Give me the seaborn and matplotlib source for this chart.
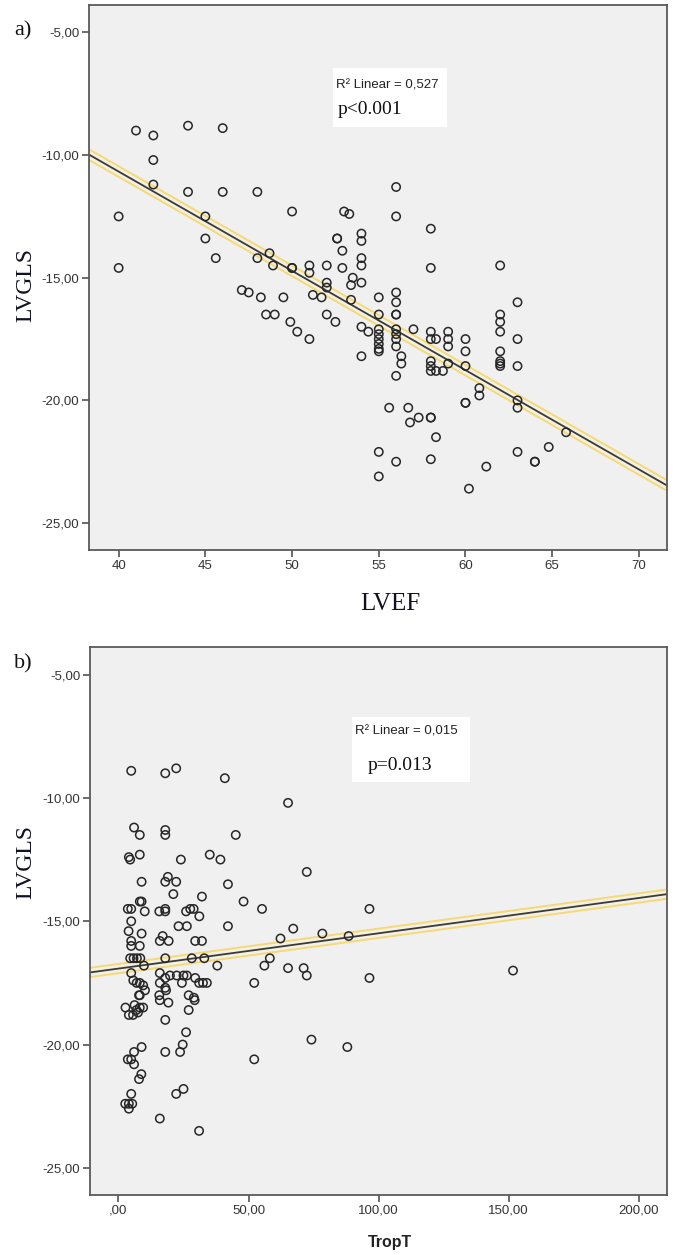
import numpy as np
import pandas as pd
import seaborn as sns
import matplotlib
matplotlib.use("Agg")
import matplotlib.pyplot as plt
import matplotlib.patheffects as pe
from matplotlib.patches import Rectangle
from matplotlib.ticker import FuncFormatter, FixedLocator

# ---------------- data ----------------
lvef_a = [41, 42, 44, 46, 42, 42, 40, 44, 46, 48, 50, 45, 40, 45, 45.6, 48, 48.7, 48.9, 50, 50,
          47.1, 47.5, 48.2, 49.5, 48.5, 49, 49.9, 50.3,
          53, 53.3, 56, 56, 58, 52.6, 52.6, 54, 54, 52.9, 54, 54, 51, 52, 52.9, 58, 62, 51,
          53.5, 54, 53.4, 52, 52, 51.2, 51.7, 53.4, 55, 56, 56, 56, 56, 55, 63, 62, 62, 62,
          52, 52.5, 54, 54.4, 55, 55, 55, 55, 55, 55, 54, 56, 56, 56, 56, 56.3, 56.3, 56,
          57, 58, 58, 58.3, 59, 59, 59, 60, 60, 60, 59, 58, 58, 58, 58.3, 58.7, 63, 62, 62,
          62, 62, 63, 60.8, 60.8, 60, 60, 63, 63, 55.6, 56.7, 56.8, 57.3, 58, 58, 58.3, 65.8,
          64.8, 63, 64, 64, 55, 56, 58, 61.2, 55, 60.2, 51]
lvgls_a = [-9.0, -9.2, -8.8, -8.9, -10.2, -11.2, -12.5, -11.5, -11.5, -11.5, -12.3, -12.5, -14.6,
           -13.4, -14.2, -14.2, -14.0, -14.5, -14.6, -14.6, -15.5, -15.6, -15.8, -15.8, -16.5,
           -16.5, -16.8, -17.2,
           -12.3, -12.4, -11.3, -12.5, -13.0, -13.4, -13.4, -13.2, -13.5, -13.9, -14.2, -14.5,
           -14.5, -14.5, -14.6, -14.6, -14.5, -14.8, -15.0, -15.2, -15.3, -15.2, -15.4, -15.7,
           -15.8, -15.9, -15.8, -15.6, -16.0, -16.5, -16.5, -16.5, -16.0, -16.5, -16.8, -17.2,
           -16.5, -16.8, -17.0, -17.2, -17.1, -17.3, -17.5, -17.7, -17.9, -18.0, -18.2, -17.1,
           -17.3, -17.5, -17.8, -18.2, -18.5, -19.0, -17.1, -17.2, -17.5, -17.5, -17.2, -17.5,
           -17.8, -17.5, -18.0, -18.6, -18.5, -18.4, -18.6, -18.8, -18.8, -18.8, -17.5, -18.0,
           -18.4, -18.5, -18.6, -18.6, -19.5, -19.8, -20.1, -20.1, -20.0, -20.3, -20.3, -20.3,
           -20.9, -20.7, -20.7, -20.7, -21.5, -21.3, -21.9, -22.1, -22.5, -22.5, -22.1, -22.5,
           -22.4, -22.7, -23.1, -23.6, -17.5]

tropt_b = [4.9, 18, 22.2, 40.9, 65.2, 6, 8.2, 18, 18, 45.1, 4, 4.5, 8.2, 24, 35.1, 39.2, 72.4,
           8.9, 18, 19, 22.2, 21.1, 42.1, 32.1, 48.1, 55.2, 3.6, 4.9, 8.2, 8.9, 10.1, 15.7, 18,
           18, 26, 27.6, 28.9, 31.1, 4.9, 3.9, 8.9, 17, 15.9, 19.3, 23.1, 26.3, 29.5, 32.1,
           42.1, 62.3, 67.2, 78.4, 4.9, 4.9, 8.2, 4.5, 5.8, 7.1, 8.4, 18, 28.2, 33, 9.8, 38,
           58.2, 56.1, 65.2, 71.2, 72.4, 4.9, 5.7, 7, 8.2, 9.5, 15.9, 18, 19.8, 22.4, 25, 26.3,
           29.5, 31, 32.5, 34, 24.4, 15.9, 18, 52.2, 15.7, 27, 29, 8.2, 10.2, 18.3, 15.9, 19.2,
           29.3, 27, 18, 26, 2.7, 4, 5.6, 6.9, 8.2, 6.2, 7.5, 9.5, 7.9, 24.7, 23.7, 18, 8.9, 6,
           3.6, 4.9, 6, 8.8, 7.9, 4.9, 2.6, 4, 5.3, 4, 22.2, 25, 15.9, 31, 52.2, 74.2, 96.5,
           88.5, 96.5, 151.7, 88]
lvgls_b = [-8.9, -9.0, -8.8, -9.2, -10.2, -11.2, -11.5, -11.3, -11.5, -11.5, -12.4, -12.5,
           -12.3, -12.5, -12.3, -12.5, -13.0, -13.4, -13.4, -13.2, -13.4, -13.9, -13.5, -14.0,
           -14.2, -14.5, -14.5, -14.5, -14.2, -14.2, -14.6, -14.6, -14.5, -14.6, -14.6, -14.5,
           -14.5, -14.8, -15.0, -15.4, -15.5, -15.6, -15.8, -15.8, -15.2, -15.2, -15.8, -15.8,
           -15.2, -15.7, -15.3, -15.5, -15.8, -16.0, -16.0, -16.5, -16.5, -16.5, -16.5, -16.5,
           -16.5, -16.5, -16.8, -16.8, -16.5, -16.8, -16.9, -16.9, -17.2, -17.1, -17.4, -17.5,
           -17.5, -17.6, -17.1, -17.3, -17.2, -17.2, -17.2, -17.2, -17.3, -17.5, -17.5, -17.5,
           -17.5, -17.5, -17.7, -17.5, -18.0, -18.0, -18.1, -18.0, -17.8, -17.8, -18.2, -18.3,
           -18.2, -18.6, -19.0, -19.5, -18.5, -18.8, -18.8, -18.6, -18.5, -18.4, -18.7, -18.5,
           -18.0, -20.0, -20.3, -20.3, -20.1, -20.3, -20.6, -20.6, -20.8, -21.2, -21.4, -22.0,
           -22.4, -22.4, -22.4, -22.6, -22.0, -21.8, -23.0, -23.5, -20.6, -19.8, -14.5, -15.6,
           -17.3, -17.0, -20.1]

yticks = [-5, -10, -15, -20, -25]
xticks_a = [40, 45, 50, 55, 60, 65, 70]
xticks_b = [0, 50, 100, 150, 200]
r2_a, p_a = "0,527", "p<0.001"
r2_b, p_b = "0,015", "p=0.013"

df_a = pd.DataFrame({"LVEF": lvef_a, "LVGLS": lvgls_a})
df_b = pd.DataFrame({"TropT": tropt_b, "LVGLS": lvgls_b})

# ---------------- style ----------------
W, H = 676, 1255
sns.set_theme(style="white")
plt.rcParams["font.family"] = ["Liberation Sans", "DejaVu Sans"]
SERIF = ["Liberation Serif", "DejaVu Serif"]

fig = plt.figure(figsize=(W / 100, H / 100), dpi=100)
fig.patch.set_facecolor("white")


def rect(l, t, r, b):
    return [l / W, 1 - b / H, (r - l) / W, (b - t) / H]


def spss(v, pos=None):
    s = f"{v:.2f}".replace(".", ",")
    if s.startswith("0,"):
        s = s[1:]
    return s


halo = [pe.Stroke(linewidth=8.0, foreground="#F4D978"),
        pe.Stroke(linewidth=5.2, foreground="#F4F1E2"),
        pe.Normal()]


def panel(ax, df, xcol, xlim, xticks, xfmt):
    ax.set_facecolor("#F0F0F0")
    ax.set_xlim(*xlim)
    ax.set_ylim(-26.1, -3.88)
    sns.regplot(data=df, x=xcol, y="LVGLS", ax=ax, ci=None, truncate=False,
                scatter_kws=dict(s=36, color="#262626", facecolors="none",
                                 linewidths=1.1, alpha=1, zorder=3),
                line_kws=dict(color="#3a3a3a", lw=1.3, solid_capstyle="round",
                              path_effects=halo, zorder=2))
    ax.set_xlim(*xlim)
    ax.set_ylim(-26.1, -3.88)
    ax.set_xlabel("")
    ax.set_ylabel("")
    ax.yaxis.set_major_locator(FixedLocator(yticks))
    ax.yaxis.set_major_formatter(FuncFormatter(spss))
    ax.xaxis.set_major_locator(FixedLocator(xticks))
    ax.xaxis.set_major_formatter(FuncFormatter(xfmt))
    ax.tick_params(axis="both", which="major", direction="out", length=5, width=1.1,
                   color="#444444", labelcolor="#333333", labelsize=9.5,
                   left=True, bottom=True, pad=2)
    for sp in ax.spines.values():
        sp.set_visible(True)
        sp.set_color("#5a5a5a")
        sp.set_linewidth(1.3)
    ax.grid(False)


ax1 = fig.add_axes(rect(89, 5, 667, 550))
panel(ax1, df_a, "LVEF", (38.29, 71.62), xticks_a, lambda v, p: f"{v:.0f}")

ax2 = fig.add_axes(rect(90, 647, 667, 1195))
panel(ax2, df_b, "TropT", (-10.94, 210.9), xticks_b, spss)

# panel letters and axis titles
fig.text(14 / W, 1 - 31 / H, "a)", family=SERIF, fontsize=16, color="#111111",
         ha="left", va="center")
fig.text(14 / W, 1 - 664 / H, "b)", family=SERIF, fontsize=16, color="#111111",
         ha="left", va="center")
fig.text(26 / W, 1 - 285 / H, "LVGLS", family=SERIF, fontsize=17, color="#111122",
         rotation=90, ha="center", va="center")
fig.text(26 / W, 1 - 862 / H, "LVGLS", family=SERIF, fontsize=17, color="#111122",
         rotation=90, ha="center", va="center")
fig.text(390 / W, 1 - 604 / H, "LVEF", family=SERIF, fontsize=18, color="#111122",
         ha="center", va="center")
fig.text(390 / W, 1 - 1242 / H, "TropT", fontsize=11.5, fontweight="bold",
         color="#222222", ha="center", va="center")

# white annotation boxes
for (l, t, r, b) in [(333, 68, 447, 127), (352, 717, 470, 782)]:
    fig.patches.append(Rectangle((l / W, 1 - b / H), (r - l) / W, (b - t) / H,
                                 transform=fig.transFigure, facecolor="white",
                                 edgecolor="none", zorder=5))
fig.text(336 / W, 1 - 85 / H, "R² Linear = " + r2_a, fontsize=9.5, color="#222222",
         ha="left", va="center", zorder=6)
fig.text(338 / W, 1 - 110 / H, p_a, family=SERIF, fontsize=14, color="#111111",
         ha="left", va="center", zorder=6)
fig.text(355 / W, 1 - 732 / H, "R² Linear = " + r2_b, fontsize=9.5, color="#222222",
         ha="left", va="center", zorder=6)
fig.text(368 / W, 1 - 765 / H, p_b, family=SERIF, fontsize=14, color="#111111",
         ha="left", va="center", zorder=6)

fig.savefig("out.png", dpi=100)
